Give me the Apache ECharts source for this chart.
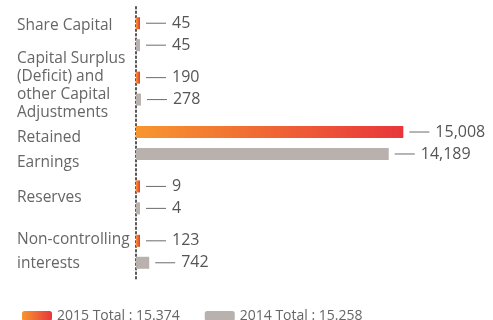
<!DOCTYPE html>
<html>
<head>
<meta charset="utf-8">
<script src="https://cdn.jsdelivr.net/npm/echarts@6/dist/echarts.min.js"></script>
<style>
  html, body { margin: 0; padding: 0; background: #fff; }
  #chart { width: 493px; height: 320px; }
</style>
</head>
<body>
<div id="chart"></div>
<script>
// Equity components (KRW billion)
const categories = [
  'Share Capital',
  'Capital Surplus\n(Deficit) and\nother Capital\nAdjustments',
  'Retained\nEarnings',
  'Reserves',
  'Non-controlling\ninterests'
];
const values2015 = [45, 190, 15008, 9, 123];
const values2014 = [45, 278, 14189, 4, 742];
const seriesNames = ['2015 Total : 15.374', '2014 Total : 15.258'];

// Line spacing for each category label
const lineHeights = [18, 17.7, 25, 18, 24];

// Spacer rows that nudge a label block up or down against its bars
function placeLabel(text, i) {
  if (i === 0) return text + '\n{sp18| }';
  if (i === 1) return text + '\n{sp6| }';
  if (i === 2) return '{sp15| }\n' + text;
  return text;
}

const FONT = '"Open Sans", "Noto Sans", sans-serif';

const orangeRed = new echarts.graphic.LinearGradient(0, 0, 1, 0, [
  { offset: 0, color: '#F7962F' },
  { offset: 1, color: '#E8363B' }
]);
const grey = '#B9B1AE';

const valueLabel = {
  show: true,
  position: 'right',
  distance: 6,
  formatter: p => '{line|}{val|' + p.value.toLocaleString('en-US') + '}',
  rich: {
    line: { width: 20, height: 1, backgroundColor: '#6b6b6b' },
    val: { fontSize: 16, color: '#555', fontFamily: FONT, padding: [0, 0, 0, 6] }
  }
};

const chart = echarts.init(document.getElementById('chart'), null, { renderer: 'canvas' });
chart.setOption({
  animation: false,
  grid: { left: 136, top: 7, width: 285, height: 272, containLabel: false, outerBoundsMode: 'none' },
  xAxis: { type: 'value', min: 0, max: 16000, show: false },
  yAxis: {
    type: 'category',
    inverse: true,
    data: categories.map((c, i) => ({
      value: c,
      textStyle: { align: 'left', lineHeight: lineHeights[i] }
    })),
    axisTick: { show: false },
    axisLine: { show: true, lineStyle: { color: '#555', width: 2, type: [1.5, 3] } },
    axisLabel: {
      interval: 0,
      showMinLabel: true,
      showMaxLabel: true,
      align: 'left',
      margin: 119,
      color: '#666',
      fontSize: 15.5,
      fontFamily: FONT,
      hideOverlap: false,
      formatter: (value, index) => placeLabel(value, index),
      rich: {
        sp18: { height: 18, lineHeight: 18, fontSize: 1 },
        sp6: { height: 6, lineHeight: 6, fontSize: 1 },
        sp15: { height: 15, lineHeight: 15, fontSize: 1 }
      }
    }
  },
  legend: {
    left: 22,
    top: 309,
    padding: 0,
    itemWidth: 30,
    itemHeight: 10,
    itemGap: 25,
    textStyle: { color: '#666', fontSize: 14, fontFamily: FONT },
    data: seriesNames
  },
  series: [
    {
      name: seriesNames[0],
      type: 'bar',
      data: values2015,
      barWidth: 12,
      barGap: '83%',
      barMinHeight: 4,
      itemStyle: { color: orangeRed },
      label: valueLabel
    },
    {
      name: seriesNames[1],
      type: 'bar',
      data: values2014,
      barWidth: 12,
      barMinHeight: 4,
      itemStyle: { color: grey },
      label: valueLabel
    }
  ]
});
</script>
</body>
</html>
